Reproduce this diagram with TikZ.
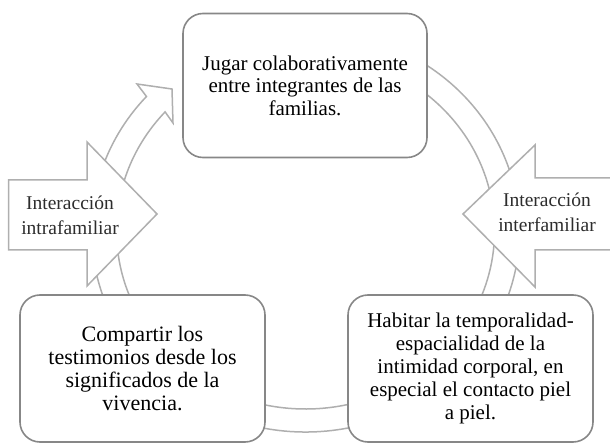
\documentclass[tikz,border=0pt]{standalone}
\usepackage{fontspec}
\setmainfont{Liberation Serif}
\definecolor{boxgray}{RGB}{135,135,135}
\definecolor{ringgray}{RGB}{175,175,175}
\definecolor{lbltext}{RGB}{45,45,45}
\begin{document}
\begin{tikzpicture}[x=1pt,y=-1pt,
  box/.style={draw=boxgray,line width=1.6pt,rounded corners=20pt,fill=white,inner sep=0pt,align=center,font=\fontsize{21}{22.5}\selectfont},
  ringline/.style={draw=ringgray,line width=1.5pt,fill=white,line join=miter},
  blockarrow/.style={draw=ringgray,line width=1.5pt,fill=white},
  lbl/.style={align=center,inner sep=0pt,text=lbltext,font=\fontsize{19.5}{25}\selectfont}]
\useasboundingbox (0,0) rectangle (610,443);
\clip (0,0) rectangle (610,443);
% cycle band with arrow head
\coordinate (rs) at (378.7,42.1);
\coordinate (hw1) at (137,84);
\coordinate (ht) at (172,89);
\coordinate (hw2) at (173,123);
\coordinate (hi) at (165.1,111.9);
\draw[ringline] (rs) arc[start angle=-70,end angle=222,x radius=214,y radius=201]
  -- (hw1) -- (ht) -- (hw2) -- (hi)
  arc[start angle=222,end angle=-70,x radius=189,y radius=178] -- cycle;
% block arrows
\draw[blockarrow] (8.5,180) -- (87,180) -- (87,142) -- (157,214) -- (87,286) -- (87,250) -- (8.5,250) -- cycle;
\draw[blockarrow] (614,178) -- (535,178) -- (535,145) -- (463,214) -- (535,287) -- (535,250) -- (614,250) -- cycle;
\node[lbl] (intra) at (70,215) {Interacción\\intrafamiliar};
\node[lbl] (inter) at (547,212) {Interacción\\interfamiliar};
% boxes
\node[box,minimum width=244pt,minimum height=144pt] (jugar) at (305,85.5)
  {Jugar colaborativamente\\entre integrantes de las\\familias.};
\node[box,minimum width=245pt,minimum height=147pt,font=\fontsize{22}{23}\selectfont] (compartir) at (142.5,368.5)
  {Compartir los\\testimonios desde los\\significados de la\\vivencia.};
\node[box,minimum width=245pt,minimum height=147pt,font=\fontsize{21}{23.2}\selectfont] (habitar) at (470.5,368.5)
  {Habitar la temporalidad-\\espacialidad de la\\intimidad corporal, en\\especial el contacto piel\\a piel.};
\end{tikzpicture}
\end{document}
